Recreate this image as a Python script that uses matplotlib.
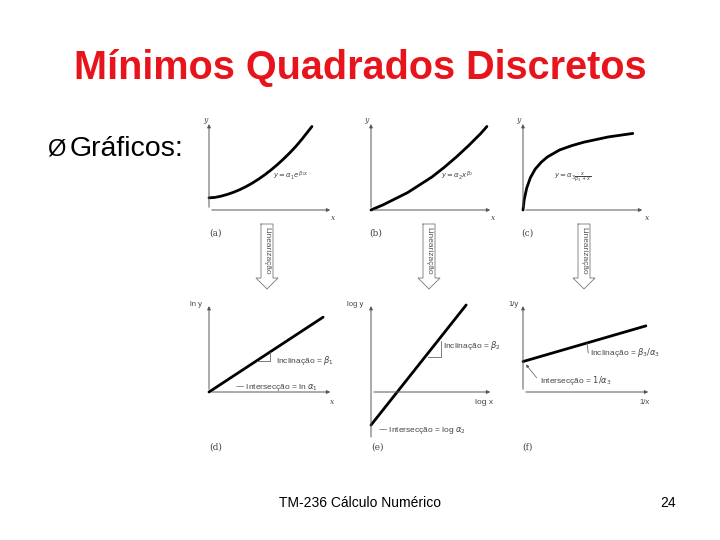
import matplotlib.pyplot as plt

# curve samples, panel-local coordinates (0..1)
curve_a_x = [0.0, 0.05, 0.1, 0.15, 0.2, 0.25, 0.3, 0.35, 0.4, 0.45, 0.5, 0.55, 0.6, 0.65, 0.7, 0.75, 0.8, 0.83]
curve_a_y = [0.14, 0.145, 0.16, 0.18, 0.205, 0.235, 0.27, 0.31, 0.355, 0.405, 0.46, 0.52, 0.585, 0.655, 0.73, 0.815, 0.905, 0.96]
curve_b_x = [0.0, 0.1, 0.2, 0.3, 0.4, 0.5, 0.6, 0.7, 0.8, 0.9, 0.95]
curve_b_y = [0.0, 0.06, 0.13, 0.2, 0.29, 0.38, 0.49, 0.61, 0.74, 0.88, 0.96]
curve_c_x = [0.0, 0.01, 0.03, 0.06, 0.1, 0.15, 0.2, 0.3, 0.4, 0.5, 0.6, 0.7, 0.8, 0.9]
curve_c_y = [0.0, 0.12, 0.25, 0.37, 0.47, 0.55, 0.61, 0.69, 0.74, 0.78, 0.81, 0.84, 0.86, 0.88]

line_d = ([0.0, 0.92], [0.0, 0.86])
line_e = ([0.0, 0.78], [-0.38, 1.0])
line_f = ([0.0, 0.96], [0.35, 0.76])

W, H = 720, 540
fig = plt.figure(figsize=(7.2, 5.4), dpi=100)
plt.rcParams['font.family'] = ['Liberation Sans', 'DejaVu Sans']


def panel(x0, x1, y_top, y_bot):
    ax = fig.add_axes([x0 / W, 1 - y_bot / H, (x1 - x0) / W, (y_bot - y_top) / H])
    ax.set_xlim(0, 1)
    ax.set_ylim(0, 1)
    ax.axis('off')
    return ax


def axes_arrows(ax, ymin=0.0, xaxis_y=0.0):
    kw = dict(arrowstyle='-|>', color='#555555', lw=0.7, mutation_scale=5)
    ax.annotate('', xy=(0, 1.02), xytext=(0, ymin), arrowprops=kw, annotation_clip=False)
    ax.annotate('', xy=(1.0, xaxis_y), xytext=(0, xaxis_y), arrowprops=kw, annotation_clip=False)


small = dict(fontsize=5.5, color='#444444', family='DejaVu Serif', style='italic')
note = dict(fontsize=6, color='#444444')
curve = dict(color='black', lw=2, clip_on=False, solid_capstyle='round')

# top row
ax = panel(209, 333, 123, 210)
axes_arrows(ax)
ax.plot(curve_a_x, curve_a_y, **curve)
ax.text(0.52, 0.36, r'$y = \alpha_1 e^{\beta_1 x}$', fontsize=5, color='#444444')

ax = panel(371, 493, 123, 210)
axes_arrows(ax)
ax.plot(curve_b_x, curve_b_y, **curve)
ax.text(0.57, 0.36, r'$y = \alpha_2 x^{\beta_2}$', fontsize=5, color='#444444')

ax = panel(523, 645, 123, 210)
axes_arrows(ax)
ax.plot(curve_c_x, curve_c_y, **curve)
ax.text(0.25, 0.36, r'$y = \alpha_3 \frac{x}{\beta_3 + x}$', fontsize=5, color='#444444')

# bottom row
ax = panel(209, 333, 305, 392)
axes_arrows(ax)
ax.plot(*line_d, **curve)
ax.plot([0.39, 0.49, 0.49], [0.36, 0.36, 0.46], color='#666666', lw=0.6)
ax.text(0.54, 0.33, 'Inclinação = $β_1$', **note)
ax.text(0.21, 0.04, '— Intersecção = ln $α_1$', **note)

ax = panel(371, 493, 305, 392)
axes_arrows(ax, ymin=-0.55)
ax.plot(*line_e, **curve)
ax.plot([0.47, 0.57, 0.57], [0.4, 0.4, 0.59], color='#666666', lw=0.6)
ax.text(0.59, 0.5, 'Inclinação = $β_2$', **note)
ax.text(0.06, -0.46, '— Intersecção = log $α_2$', **note)

ax = panel(523, 651, 305, 392)
axes_arrows(ax)
ax.plot(*line_f, **curve)
ax.plot([0.5, 0.51], [0.56, 0.45], color='#666666', lw=0.6)
ax.text(0.52, 0.43, 'Inclinação = $β_3/α_3$', **note)
ax.text(0.13, 0.1, 'Intersecção = $1/α_3$', **note)
ax.annotate('', xy=(0.01, 0.34), xytext=(0.12, 0.14),
            arrowprops=dict(arrowstyle='-|>', color='#555555', lw=0.5, mutation_scale=4))

# free text in pixel coordinates
bg = fig.add_axes([0, 0, 1, 1], zorder=-1)
bg.set_xlim(0, W)
bg.set_ylim(H, 0)
bg.axis('off')

bg.text(360, 68, 'Mínimos Quadrados Discretos', color='#e8141c', fontsize=28.5,
        fontweight='bold', ha='center', va='center')
bg.text(47, 149, 'Ø', fontsize=17, va='center')
bg.text(70, 149, 'Gráficos:', fontsize=20.5, va='center')
bg.text(360, 503, 'TM-236 Cálculo Numérico', fontsize=10, ha='center', va='center')
bg.text(668, 503, '24', fontsize=10, ha='center', va='center')

for px, lab in [(203, 'y'), (364, 'y'), (516, 'y')]:
    bg.text(px, 122, lab, **small)
for px, lab in [(331, 'x'), (491, 'x'), (645, 'x')]:
    bg.text(px, 220, lab, **small)
for px, lab in [(209, '(a)'), (369, '(b)'), (521, '(c)')]:
    bg.text(px, 233, lab, fontsize=6.5, color='#444444', family='DejaVu Serif', va='center')
for px, lab in [(209, '(d)'), (371, '(e)'), (522, '(f)')]:
    bg.text(px, 447, lab, fontsize=6.5, color='#444444', family='DejaVu Serif', va='center')
bg.text(190, 306, 'ln y', fontsize=5.5, color='#444444')
bg.text(347, 306, 'log y', fontsize=5.5, color='#444444')
bg.text(508, 306, '1/y', fontsize=5.5, color='#444444')
bg.text(330, 404, 'x', **small)
bg.text(475, 404, 'log x', fontsize=6, color='#444444')
bg.text(639, 404, '1/x', fontsize=5.5, color='#444444')

# "Linearização" arrows
for cx in [267, 429, 584]:
    bg.plot([cx - 6, cx - 6, cx - 11, cx, cx + 11, cx + 6, cx + 6, cx - 6],
            [224, 278, 278, 289, 278, 278, 224, 224], color='#777777', lw=0.6)
    bg.text(cx, 251, 'Linearização', rotation=270, fontsize=6, color='#555555',
            ha='center', va='center')

fig.savefig('out.png', dpi=100)
